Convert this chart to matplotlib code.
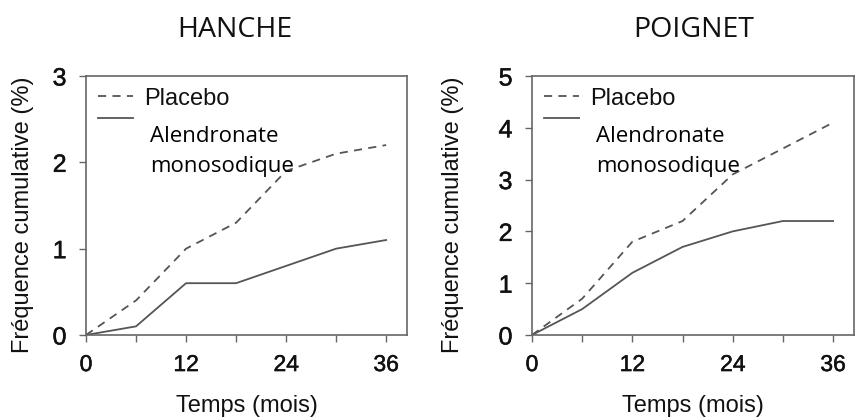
import matplotlib.pyplot as plt
import matplotlib.patheffects as pe
from matplotlib.lines import Line2D

# values (cumulative frequency, %)
months = [0, 6, 12, 18, 24, 30, 36]
hip_placebo = [0, 0.4, 1.0, 1.3, 1.9, 2.1, 2.2]
hip_alendronate = [0, 0.1, 0.6, 0.6, 0.8, 1.0, 1.1]
wrist_placebo = [0, 0.7, 1.8, 2.2, 3.1, 3.6, 4.1]
wrist_alendronate = [0, 0.5, 1.2, 1.7, 2.0, 2.2, 2.2]

titles = ['HANCHE', 'POIGNET']
y_max = [3, 5]
x_ticks = [0, 12, 24, 36]
x_label = 'Temps (mois)'
y_label = 'Fréquence cumulative (%)'
placebo_label = 'Placebo'
alendronate_label = 'Alendronate\nmonosodique'

line_color = '#555555'
spine_color = '#666666'
helv = ['Liberation Sans', 'DejaVu Sans']
calibri = ['Open Sans', 'DejaVu Sans']
heavier = [pe.withStroke(linewidth=0.35, foreground='#111111')]

fig = plt.figure(figsize=(8.55, 4.18), dpi=100)
ax1 = fig.add_axes([0.1006, 0.1986, 0.3754, 0.6196])
ax2 = fig.add_axes([0.6222, 0.1986, 0.3766, 0.6196])

panels = [
    (ax1, hip_placebo, hip_alendronate, 0.235 / 0.855, -0.162),
    (ax2, wrist_placebo, wrist_alendronate, 0.694 / 0.855, -0.211),
]

for i, (ax, plac, alen, title_x, ylab_x) in enumerate(panels):
    ax.plot(months, plac, color=line_color, lw=1.3, linestyle=(0, (4.5, 3.5)))
    ax.plot(months, alen, color=line_color, lw=1.3)

    ax.set_xlim(0, 38.5)
    ax.set_ylim(0, y_max[i])
    ax.set_xticks(months)
    ax.set_xticklabels([str(m) if m in x_ticks else '' for m in months])
    ax.set_yticks(range(y_max[i] + 1))

    for s in ax.spines.values():
        s.set_color(spine_color)
        s.set_linewidth(1.2)
    ax.tick_params(direction='out', length=5, width=1, color=spine_color,
                   labelcolor='#111111')
    ax.tick_params(axis='x', pad=8, labelsize=16.5)
    ax.tick_params(axis='y', pad=9, labelsize=18)
    for lab in ax.get_xticklabels() + ax.get_yticklabels():
        lab.set_fontfamily(helv)
        lab.set_path_effects(heavier)

    ax.set_xlabel(x_label, fontsize=17, family=helv, color='#111111',
                  labelpad=14)
    ax.set_ylabel(y_label, fontsize=17, family=helv, color='#111111')
    ax.yaxis.set_label_coords(ylab_x, 0.465)

    fig.text(title_x, 1 - 37 / 418, titles[i], fontsize=20.5, family=calibri,
             ha='center', va='baseline', color='#111111')

    handles = [
        Line2D([], [], color=line_color, lw=1.3, linestyle=(0, (4.5, 3.5))),
        Line2D([], [], color=line_color, lw=1.3),
    ]
    leg = ax.legend(handles, [placebo_label, ' '], loc='upper left',
                    bbox_to_anchor=(0.037, 0.955), frameon=False,
                    borderpad=0, borderaxespad=0, handlelength=1.5,
                    handletextpad=0.45, labelspacing=0.0,
                    prop={'family': helv, 'size': 17})
    for t in leg.get_texts():
        t.set_color('#111111')

    ax.text(0.2, 0.629, alendronate_label, transform=ax.transAxes,
            fontsize=16, family=calibri, va='baseline', ha='left',
            linespacing=1.55, color='#000000')

fig.savefig('out.png', dpi=100)
